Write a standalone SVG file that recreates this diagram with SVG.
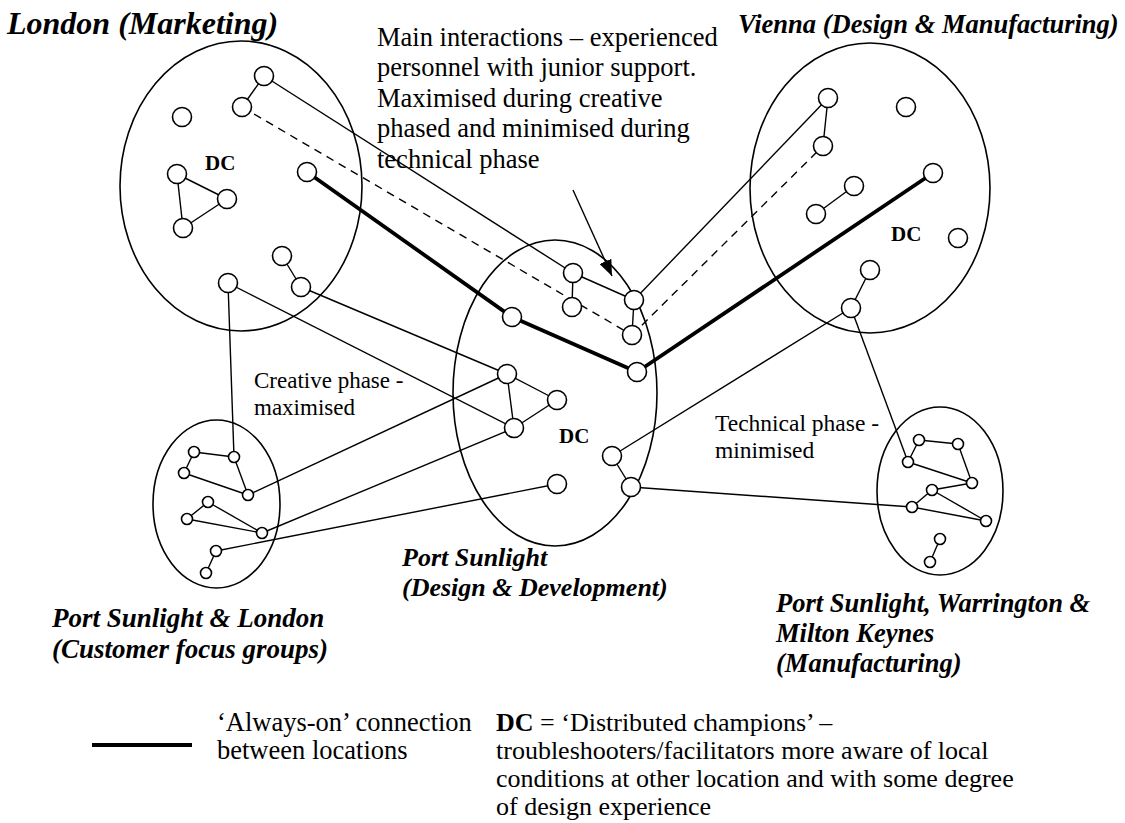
<svg xmlns="http://www.w3.org/2000/svg" width="1125" height="823" viewBox="0 0 1125 823">
<defs>
<style>
.loc{fill:none;stroke:#000;stroke-width:1.6}
.ln{stroke:#000;stroke-width:1.4;fill:none}
.dash{stroke:#000;stroke-width:1.4;fill:none;stroke-dasharray:8 6}
.thick{stroke:#000;stroke-width:3.8;fill:none;stroke-linejoin:round}
.n{fill:#fff;stroke:#000;stroke-width:1.6}
.title{font-family:"Liberation Serif","Times New Roman",serif;font-weight:bold;font-style:italic;fill:#000}
.txt{font-family:"Liberation Serif","Times New Roman",serif;fill:#000}
.dc{font-family:"Liberation Serif","Times New Roman",serif;font-weight:bold;font-size:21px;fill:#000}
</style>
<marker id="arr" viewBox="0 0 16 13" refX="16" refY="6.5" markerWidth="16" markerHeight="13" markerUnits="userSpaceOnUse" orient="auto">
<path d="M0,0 L16,6.5 L0,13 z" fill="#000"/>
</marker>
</defs>
<rect width="1125" height="823" fill="#fff"/>

<g id="london">
<ellipse class="loc" cx="241" cy="186" rx="121" ry="145"/>
<text class="title" x="7" y="34" font-size="32">London (Marketing)</text>
<text class="dc" x="205" y="170">DC</text>
</g>
<g id="port-sunlight">
<ellipse class="loc" cx="555" cy="393" rx="102" ry="153"/>
<text class="dc" x="559" y="443">DC</text>
<text class="title" x="402" y="566" font-size="26">Port Sunlight</text>
<text class="title" x="402" y="596" font-size="26">(Design &amp; Development)</text>
</g>
<g id="vienna">
<ellipse class="loc" cx="870" cy="188" rx="120" ry="145"/>
<text class="title" x="738" y="33" font-size="26.5">Vienna (Design &amp; Manufacturing)</text>
<text class="dc" x="891" y="241">DC</text>
</g>
<g id="customer-groups">
<ellipse class="loc" cx="216.5" cy="504" rx="63.5" ry="84"/>
<text class="title" x="52" y="627" font-size="27">Port Sunlight &amp; London</text>
<text class="title" x="52" y="658" font-size="27">(Customer focus groups)</text>
</g>
<g id="manufacturing">
<ellipse class="loc" cx="940" cy="491" rx="63" ry="84"/>
<text class="title" x="776" y="612" font-size="26.5">Port Sunlight, Warrington &amp;</text>
<text class="title" x="776" y="642" font-size="26.5">Milton Keynes</text>
<text class="title" x="776" y="672" font-size="26.5">(Manufacturing)</text>
</g>

<g id="annotations">
<text class="txt" font-size="26.5">
<tspan x="377" y="46">Main interactions – experienced</tspan>
<tspan x="377" y="76">personnel with junior support.</tspan>
<tspan x="377" y="107">Maximised during creative</tspan>
<tspan x="377" y="137">phased and minimised during</tspan>
<tspan x="377" y="168">technical phase</tspan>
</text>
<text class="txt" font-size="23">
<tspan x="254" y="388">Creative phase -</tspan>
<tspan x="254" y="415">maximised</tspan>
</text>
<text class="txt" font-size="23.5">
<tspan x="715" y="431">Technical phase -</tspan>
<tspan x="715" y="458">minimised</tspan>
</text>
</g>

<g id="connectors">
<line class="ln" x1="573" y1="190" x2="612" y2="276" marker-end="url(#arr)"/>
<line class="ln" x1="264" y1="76" x2="242" y2="107"/>
<line class="ln" x1="177" y1="174" x2="227" y2="199"/>
<line class="ln" x1="227" y1="199" x2="183" y2="228"/>
<line class="ln" x1="177" y1="174" x2="183" y2="228"/>
<line class="ln" x1="282" y1="256" x2="301" y2="287"/>
<line class="ln" x1="264" y1="76" x2="573" y2="273"/>
<line class="dash" x1="242" y1="107" x2="632" y2="335"/>
<polyline class="thick" points="307,172 512,317 637,372 933,173"/>
<line class="ln" x1="301" y1="287" x2="507" y2="374"/>
<line class="ln" x1="228" y1="283" x2="514" y2="428"/>
<line class="ln" x1="228" y1="283" x2="234" y2="457"/>
<line class="ln" x1="634" y1="300" x2="828" y2="98"/>
<line class="dash" x1="632" y1="335" x2="823" y2="146"/>
<line class="ln" x1="507" y1="374" x2="248" y2="495"/>
<line class="ln" x1="514" y1="428" x2="262" y2="533"/>
<line class="ln" x1="557" y1="484" x2="216" y2="551"/>
<line class="ln" x1="612" y1="456" x2="851" y2="308"/>
<line class="ln" x1="631" y1="487" x2="912" y2="507"/>
<line class="ln" x1="851" y1="308" x2="908" y2="462"/>
<line class="ln" x1="573" y1="273" x2="572" y2="307"/>
<line class="ln" x1="573" y1="273" x2="634" y2="300"/>
<line class="ln" x1="634" y1="300" x2="632" y2="335"/>
<line class="ln" x1="507" y1="374" x2="557" y2="400"/>
<line class="ln" x1="507" y1="374" x2="514" y2="428"/>
<line class="ln" x1="514" y1="428" x2="557" y2="400"/>
<line class="ln" x1="612" y1="456" x2="631" y2="487"/>
<line class="ln" x1="828" y1="98" x2="823" y2="146"/>
<line class="ln" x1="854" y1="186" x2="816" y2="214"/>
<line class="ln" x1="870" y1="270" x2="851" y2="308"/>
<line class="ln" x1="194" y1="452" x2="234" y2="457"/>
<line class="ln" x1="194" y1="452" x2="184" y2="473"/>
<line class="ln" x1="184" y1="473" x2="248" y2="495"/>
<line class="ln" x1="234" y1="457" x2="248" y2="495"/>
<line class="ln" x1="208" y1="502" x2="187" y2="519"/>
<line class="ln" x1="208" y1="502" x2="262" y2="533"/>
<line class="ln" x1="187" y1="519" x2="262" y2="533"/>
<line class="ln" x1="216" y1="551" x2="206" y2="573"/>
<line class="ln" x1="919" y1="440" x2="958" y2="444"/>
<line class="ln" x1="919" y1="440" x2="908" y2="462"/>
<line class="ln" x1="958" y1="444" x2="972" y2="483"/>
<line class="ln" x1="908" y1="462" x2="972" y2="483"/>
<line class="ln" x1="972" y1="483" x2="932" y2="490"/>
<line class="ln" x1="932" y1="490" x2="912" y2="507"/>
<line class="ln" x1="932" y1="490" x2="986" y2="521"/>
<line class="ln" x1="912" y1="507" x2="986" y2="521"/>
<line class="ln" x1="940" y1="539" x2="930" y2="562"/>
</g>

<g id="london-nodes">
<circle id="l1" class="n" cx="264" cy="76" r="9.5"/>
<circle id="l2" class="n" cx="242" cy="107" r="9.5"/>
<circle id="l3" class="n" cx="182" cy="117" r="9.5"/>
<circle id="l4" class="n" cx="177" cy="174" r="9.5"/>
<circle id="l5" class="n" cx="227" cy="199" r="9.5"/>
<circle id="l6" class="n" cx="183" cy="228" r="9.5"/>
<circle id="l7" class="n" cx="307" cy="172" r="9.5"/>
<circle id="l8" class="n" cx="282" cy="256" r="9.5"/>
<circle id="l9" class="n" cx="301" cy="287" r="9.5"/>
<circle id="l10" class="n" cx="228" cy="283" r="9.5"/>
</g>
<g id="port-sunlight-nodes">
<circle id="p1" class="n" cx="573" cy="273" r="9.5"/>
<circle id="p2" class="n" cx="572" cy="307" r="9.5"/>
<circle id="p3" class="n" cx="634" cy="300" r="9.5"/>
<circle id="p4" class="n" cx="632" cy="335" r="9.5"/>
<circle id="p5" class="n" cx="512" cy="317" r="9.5"/>
<circle id="p6" class="n" cx="637" cy="372" r="9.5"/>
<circle id="p7" class="n" cx="507" cy="374" r="9.5"/>
<circle id="p8" class="n" cx="557" cy="400" r="9.5"/>
<circle id="p9" class="n" cx="514" cy="428" r="9.5"/>
<circle id="p10" class="n" cx="612" cy="456" r="9.5"/>
<circle id="p11" class="n" cx="631" cy="487" r="9.5"/>
<circle id="p12" class="n" cx="557" cy="484" r="9.5"/>
</g>
<g id="vienna-nodes">
<circle id="v1" class="n" cx="828" cy="98" r="9.5"/>
<circle id="v2" class="n" cx="823" cy="146" r="9.5"/>
<circle id="v3" class="n" cx="906" cy="107" r="9.5"/>
<circle id="v4" class="n" cx="854" cy="186" r="9.5"/>
<circle id="v5" class="n" cx="816" cy="214" r="9.5"/>
<circle id="v6" class="n" cx="933" cy="173" r="9.5"/>
<circle id="v7" class="n" cx="958" cy="238" r="9.5"/>
<circle id="v8" class="n" cx="870" cy="270" r="9.5"/>
<circle id="v9" class="n" cx="851" cy="308" r="9.5"/>
</g>
<g id="customer-nodes">
<circle id="c1" class="n" cx="194" cy="452" r="5.5"/>
<circle id="c2" class="n" cx="234" cy="457" r="5.5"/>
<circle id="c3" class="n" cx="184" cy="473" r="5.5"/>
<circle id="c4" class="n" cx="248" cy="495" r="5.5"/>
<circle id="c5" class="n" cx="208" cy="502" r="5.5"/>
<circle id="c6" class="n" cx="187" cy="519" r="5.5"/>
<circle id="c7" class="n" cx="262" cy="533" r="5.5"/>
<circle id="c8" class="n" cx="216" cy="551" r="5.5"/>
<circle id="c9" class="n" cx="206" cy="573" r="5.5"/>
</g>
<g id="manufacturing-nodes">
<circle id="m1" class="n" cx="919" cy="440" r="5.5"/>
<circle id="m2" class="n" cx="958" cy="444" r="5.5"/>
<circle id="m3" class="n" cx="908" cy="462" r="5.5"/>
<circle id="m4" class="n" cx="972" cy="483" r="5.5"/>
<circle id="m5" class="n" cx="932" cy="490" r="5.5"/>
<circle id="m6" class="n" cx="912" cy="507" r="5.5"/>
<circle id="m7" class="n" cx="986" cy="521" r="5.5"/>
<circle id="m8" class="n" cx="940" cy="539" r="5.5"/>
<circle id="m9" class="n" cx="930" cy="562" r="5.5"/>
</g>

<g id="legend">
<line class="thick" x1="92" y1="745" x2="192" y2="745"/>
<text class="txt" font-size="26.5">
<tspan x="217" y="731">‘Always-on’ connection</tspan>
<tspan x="217" y="759">between locations</tspan>
</text>
<text class="txt" font-size="26">
<tspan x="496" y="731"><tspan font-weight="bold">DC</tspan> = ‘Distributed champions’ –</tspan>
<tspan x="496" y="759">troubleshooters/facilitators more aware of local</tspan>
<tspan x="496" y="787">conditions at other location and with some degree</tspan>
<tspan x="496" y="815">of design experience</tspan>
</text>
</g>
</svg>
